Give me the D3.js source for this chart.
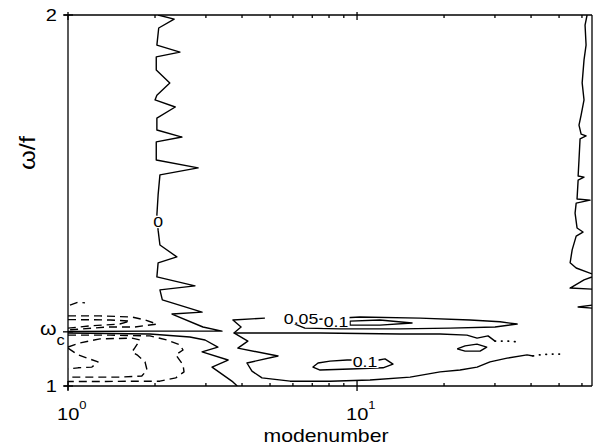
<!DOCTYPE html>
<html>
<head>
<meta charset="utf-8">
<script src="https://cdn.jsdelivr.net/npm/d3@7"></script>
<style>
  body { margin: 0; background: #fff; }
  text { font-family: "Liberation Sans", Arial, Helvetica, sans-serif; fill: #000; }
</style>
</head>
<body>
<svg id="chart" width="597" height="448"></svg>
<script>
// ---- axis definitions ----
const modeDomain = [1, 65];
const omegaDomain = [1, 2];
const omegaC = 1.146;
const xMajorTicks = [1, 10];
const xMajorExponents = ["0", "1"];
const xMinorTicks = [2, 3, 4, 5, 6, 7, 8, 9, 20, 30, 40, 50, 60];
const yTickValues = [1, omegaC, 2];

// ---- contour lines, each point is [mode number, omega/f] ----
// zero contour near mode 2, above omega_c
const zeroUpper = [
  [2.05, 2.000], [2.33, 1.989], [2.06, 1.965], [2.03, 1.919], [2.44, 1.900],
  [2.02, 1.887], [2.02, 1.852], [2.25, 1.817], [2.03, 1.784], [2.00, 1.771],
  [2.35, 1.752], [2.03, 1.722], [2.03, 1.690], [2.48, 1.671], [2.02, 1.658],
  [2.02, 1.609], [2.82, 1.588], [2.08, 1.569], [2.05, 1.515], [2.03, 1.461],
  [2.05, 1.420], [2.08, 1.380], [2.38, 1.348], [2.05, 1.332], [2.03, 1.294],
  [2.75, 1.270], [2.08, 1.259], [2.12, 1.232], [2.91, 1.199], [2.29, 1.194],
  [2.93, 1.159], [3.41, 1.148], [1.92, 1.148], [1.00, 1.147]
];
// zero contour below omega_c
const zeroLower = [
  [1.00, 1.143], [1.92, 1.140], [2.64, 1.132], [2.98, 1.124], [3.30, 1.105],
  [2.91, 1.092], [3.58, 1.070], [3.15, 1.051], [3.72, 1.011], [3.85, 1.000]
];
// zero contour around modes 4-40 (lower band)
const zeroBand = [
  [4.80, 1.183], [3.72, 1.178], [3.97, 1.159], [3.75, 1.143], [4.19, 1.121],
  [3.87, 1.102], [5.33, 1.081], [4.16, 1.062], [4.33, 1.040], [4.69, 1.022],
  [5.87, 1.013], [8.06, 1.013], [11.09, 1.016], [15.26, 1.024], [19.38, 1.038],
  [22.72, 1.043], [26.02, 1.051], [28.85, 1.065], [33.04, 1.075], [38.74, 1.084],
  [40.64, 1.081]
];
const zeroBandTail = [[40.64, 1.081], [42.97, 1.084], [46.2, 1.086], [49.6, 1.086], [52.45, 1.086]];
const zeroBandTop = [
  [3.75, 1.143], [4.62, 1.143], [7.45, 1.143], [14.09, 1.140], [19.38, 1.140],
  [24.0, 1.137], [26.02, 1.129], [28.40, 1.135], [30.02, 1.121]
];
const zeroBandTopTail = [[30.02, 1.121], [31.74, 1.121], [33.31, 1.121], [36.07, 1.119]];
const zeroBlob = [
  [22.2, 1.100], [23.65, 1.108], [26.0, 1.113], [28.1, 1.105], [26.65, 1.094],
  [23.65, 1.094], [22.2, 1.100]
];
// zero contour near the highest modes
const zeroRight = [
  [62.5, 2.000], [61.5, 1.973], [62.0, 1.919], [61.0, 1.879], [60.1, 1.817],
  [61.0, 1.771], [59.6, 1.730], [58.6, 1.703], [59.6, 1.679], [62.0, 1.674],
  [59.1, 1.666], [58.6, 1.609], [58.2, 1.566], [61.0, 1.563], [58.2, 1.555],
  [57.7, 1.504], [64.0, 1.501], [57.3, 1.493], [56.8, 1.466], [57.7, 1.426],
  [60.5, 1.415], [57.3, 1.404], [55.5, 1.367], [54.6, 1.332], [57.3, 1.318],
  [65.0, 1.302]
];
const zeroRightSpikeA = [[65.0, 1.294], [61.0, 1.286], [54.6, 1.264], [65.0, 1.261]];
const zeroRightSpikeB = [[65.0, 1.218], [58.2, 1.213], [65.0, 1.210]];

// positive contours just above omega_c
const pos005 = [
  [7.4, 1.180], [10.24, 1.186], [16.52, 1.183], [24.6, 1.178], [31.24, 1.173],
  [35.8, 1.167], [30.02, 1.159], [20.98, 1.156], [14.09, 1.154], [8.74, 1.154],
  [6.6, 1.156], [6.1, 1.167]
];
const pos01Upper = [
  [9.46, 1.175], [12.0, 1.178], [15.5, 1.170], [12.0, 1.164], [9.46, 1.164]
];
// positive contour inside the lower band
const pos01Lower = [
  [9.24, 1.070], [8.06, 1.067], [7.33, 1.062], [7.04, 1.051], [7.45, 1.043],
  [9.46, 1.046], [12.3, 1.049], [13.32, 1.059], [12.5, 1.073], [11.9, 1.070]
];

// negative contours at the lowest modes
const negAboveOuter = [
  [1.00, 1.189], [1.29, 1.189], [1.665, 1.186], [1.85, 1.178], [2.03, 1.167],
  [1.70, 1.159], [1.365, 1.159], [1.00, 1.151]
];
const negAboveInner = [
  [1.00, 1.179], [1.40, 1.178], [1.64, 1.175], [1.51, 1.167], [1.19, 1.162], [1.00, 1.156]
];
const negAboveSmall = [[1.016, 1.218], [1.083, 1.226], [1.145, 1.224]];
const negBelowOuter = [
  [1.00, 1.137], [1.40, 1.137], [1.92, 1.135], [2.20, 1.124], [2.44, 1.111],
  [2.50, 1.097], [2.36, 1.084], [2.50, 1.057], [2.52, 1.038], [2.36, 1.022],
  [2.08, 1.013], [1.64, 1.013], [1.29, 1.012], [1.00, 1.012]
];
const negBelowMid = [
  [1.00, 1.105], [1.10, 1.116], [1.29, 1.127], [1.665, 1.129], [1.775, 1.124],
  [1.70, 1.102], [1.665, 1.092], [1.733, 1.084], [1.847, 1.065], [1.877, 1.043],
  [1.80, 1.027], [1.513, 1.024], [1.192, 1.024], [1.00, 1.024]
];
const negBelowInner = [
  [1.00, 1.102], [1.083, 1.084], [1.27, 1.065], [1.21, 1.051], [1.083, 1.049], [1.00, 1.046]
];

const contours = [
  { level: 0, pts: zeroUpper }, { level: 0, pts: zeroLower },
  { level: 0, pts: zeroBand }, { level: 0, pts: zeroBandTail, faint: true },
  { level: 0, pts: zeroBandTop }, { level: 0, pts: zeroBandTopTail, faint: true },
  { level: 0, pts: zeroBlob }, { level: 0, pts: zeroRight },
  { level: 0, pts: zeroRightSpikeA }, { level: 0, pts: zeroRightSpikeB },
  { level: 0.05, pts: pos005, closed: true }, { level: 0.1, pts: pos01Upper, closed: true },
  { level: 0.1, pts: pos01Lower, closed: true },
  { level: -0.05, pts: negAboveOuter }, { level: -0.1, pts: negAboveInner },
  { level: -0.05, pts: negAboveSmall },
  { level: -0.05, pts: negBelowOuter }, { level: -0.1, pts: negBelowMid },
  { level: -0.15, pts: negBelowInner }
];

// label anchors [mode, omega/f] and the level they name
const contourLabels = [
  { level: 0, at: [2.05, 1.442] },
  { level: 0.05, at: [6.4, 1.183] },
  { level: 0.1, at: [8.46, 1.173] },
  { level: 0.1, at: [10.66, 1.065] }
];

// ---- drawing ----
const svg = d3.select("#chart");
const plot = { left: 68, right: 592, top: 15, bottom: 386 };
const x = d3.scaleLog().domain(modeDomain).range([plot.left, plot.right]);
const y = d3.scaleLinear().domain(omegaDomain).range([plot.bottom, plot.top]);
const stretch = 1.18;

const clip = svg.append("clipPath").attr("id", "plotClip").append("rect")
  .attr("x", plot.left).attr("y", plot.top)
  .attr("width", plot.right - plot.left).attr("height", plot.bottom - plot.top);

const line = d3.line().x(d => x(d[0])).y(d => y(d[1]));
const lineClosed = d3.line().x(d => x(d[0])).y(d => y(d[1])).curve(d3.curveLinearClosed);

const gC = svg.append("g").attr("clip-path", "url(#plotClip)");
gC.selectAll("path.contour").data(contours).join("path")
  .attr("class", "contour")
  .attr("d", c => (c.closed ? lineClosed : line)(c.pts))
  .attr("fill", "none")
  .attr("stroke", "#000")
  .attr("stroke-width", c => c.faint ? 1.8 : 1.4)
  .attr("stroke-linejoin", "round")
  .attr("stroke-linecap", c => c.faint ? "round" : "butt")
  .attr("stroke-dasharray", c => c.faint ? "0.5,6" : (c.level < 0 ? "8,5" : null));

// contour labels
const fmt = v => String(v);
const gL = svg.append("g");
contourLabels.forEach(l => {
  const g = gL.append("g")
    .attr("transform", `translate(${x(l.at[0])},${y(l.at[1])}) scale(${stretch},1)`);
  const t = g.append("text").attr("text-anchor", "middle").attr("dy", "0.36em")
    .attr("font-size", 15).text(fmt(l.level));
  const bb = t.node().getBBox();
  g.insert("rect", "text").attr("x", bb.x - 1).attr("y", bb.y + 2)
    .attr("width", bb.width + 2).attr("height", bb.height - 4).attr("fill", "#fff");
});

// frame
const axisStroke = 1.3;
const frame = svg.append("g").attr("stroke", "#000").attr("stroke-width", axisStroke).attr("fill", "none");
frame.append("line").attr("x1", plot.left).attr("x2", plot.left).attr("y1", plot.top).attr("y2", plot.bottom + 4);
frame.append("line").attr("x1", plot.left - 4).attr("x2", plot.right).attr("y1", plot.bottom).attr("y2", plot.bottom);
frame.append("line").attr("x1", plot.left - 4).attr("x2", plot.right).attr("y1", plot.top).attr("y2", plot.top);
frame.append("line").attr("x1", plot.right).attr("x2", plot.right).attr("y1", plot.top).attr("y2", plot.bottom);

// y ticks crossing the left axis
frame.selectAll("line.yt").data(yTickValues).join("line").attr("class", "yt")
  .attr("x1", plot.left - 5).attr("x2", plot.left + 5)
  .attr("y1", d => y(d)).attr("y2", d => y(d));
// x ticks: majors cross, minors point inward, mirrored on top
frame.selectAll("line.xM").data(xMajorTicks).join("line").attr("class", "xM")
  .attr("x1", d => x(d)).attr("x2", d => x(d))
  .attr("y1", plot.bottom - 5).attr("y2", plot.bottom + 5);
frame.selectAll("line.xMt").data(xMajorTicks).join("line").attr("class", "xMt")
  .attr("x1", d => x(d)).attr("x2", d => x(d))
  .attr("y1", plot.top - 3).attr("y2", plot.top + 5);
frame.selectAll("line.xm").data(xMinorTicks).join("line").attr("class", "xm")
  .attr("x1", d => x(d)).attr("x2", d => x(d))
  .attr("y1", plot.bottom - 3).attr("y2", plot.bottom);
frame.selectAll("line.xmt").data(xMinorTicks).join("line").attr("class", "xmt")
  .attr("x1", d => x(d)).attr("x2", d => x(d))
  .attr("y1", plot.top).attr("y2", plot.top + 3);

// tick labels
function stretched(px, py, anchor, size) {
  return svg.append("g").attr("transform", `translate(${px},${py}) scale(${stretch},1)`)
    .append("text").attr("text-anchor", anchor).attr("font-size", size);
}
stretched(plot.left - 11, y(2) + 6, "end", 17).text("2");
stretched(plot.left - 11, y(1) + 6, "end", 17).text("1");
const wc = stretched(40, y(omegaC) + 3, "start", 18);
wc.append("tspan").text("ω");
wc.append("tspan").attr("font-size", 14).attr("dy", 10).text("c");

xMajorTicks.forEach((v, i) => {
  const t = stretched(x(v) - 11, 420, "start", 17);
  t.append("tspan").text("10");
  t.append("tspan").attr("font-size", 11).attr("dy", -11).text(xMajorExponents[i]);
});

stretched(326, 442, "middle", 18).text("modenumber");

svg.append("g").attr("transform", `translate(35,153) scale(${stretch},1) rotate(-90)`)
  .append("text").attr("text-anchor", "middle").attr("font-size", 19)
  .attr("textLength", 34).attr("lengthAdjust", "spacingAndGlyphs").text("ω/f");
</script>
</body>
</html>
